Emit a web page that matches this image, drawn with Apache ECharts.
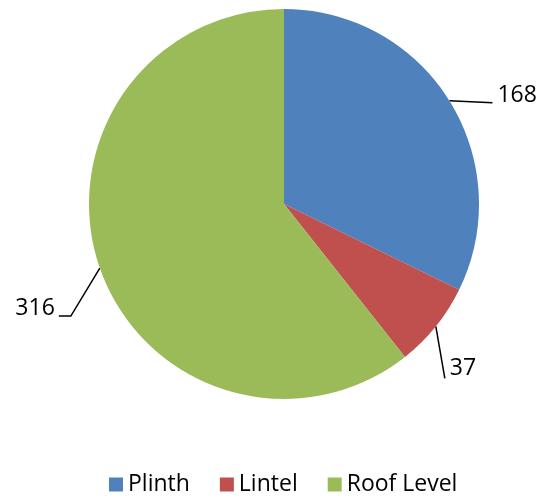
<!DOCTYPE html>
<html>
<head>
<meta charset="utf-8">
<script src="https://cdn.jsdelivr.net/npm/echarts@6/dist/echarts.min.js"></script>
<style>html,body{margin:0;padding:0;background:#fff}#c{width:540px;height:498px}</style>
</head>
<body>
<div id="c"></div>
<script>
const categories = ['Plinth', 'Lintel', 'Roof Level'];
const values = [168, 37, 316];
const colors = ['#4F81BD', '#C0504D', '#9BBB59'];

// leader line shape per label, as offsets from the slice edge point
const leader = [
  { pts: [[43, 2]], text: [5, -7], align: 'left' },
  { pts: [[9, 52]], text: [5, -10], align: 'left' },
  { pts: [[-29, 48], [-41, 48]], text: [-4, -8], align: 'right' }
];

const chart = echarts.init(document.getElementById('c'), null, { renderer: 'canvas' });
chart.setOption({
  animation: false,
  color: colors,
  legend: {
    data: categories,
    left: 104,
    top: 468,
    itemGap: 30,
    itemWidth: 14,
    itemHeight: 14,
    icon: 'rect',
    textStyle: { fontFamily: 'Open Sans', fontSize: 23, color: '#000' }
  },
  series: [{
    type: 'pie',
    center: [284, 204],
    radius: 195,
    startAngle: 90,
    clockwise: true,
    data: categories.map((c, i) => ({ name: c, value: values[i] })),
    label: {
      show: true,
      formatter: '{c}',
      fontFamily: 'Open Sans',
      fontSize: 23,
      color: '#000'
    },
    labelLine: {
      show: true,
      length: 10,
      length2: 10,
      lineStyle: { color: '#000', width: 1.5 }
    },
    labelLayout: function (p) {
      const L = leader[p.dataIndex];
      const s = p.labelLinePoints[0];
      const pts = [s.slice()];
      L.pts.forEach(o => pts.push([s[0] + o[0], s[1] + o[1]]));
      const e = pts[pts.length - 1];
      return {
        x: e[0] + L.text[0],
        y: e[1] + L.text[1],
        align: L.align,
        verticalAlign: 'middle',
        labelLinePoints: pts
      };
    },
    itemStyle: { borderWidth: 0 },
    emphasis: { disabled: true }
  }]
});
</script>
</body>
</html>
